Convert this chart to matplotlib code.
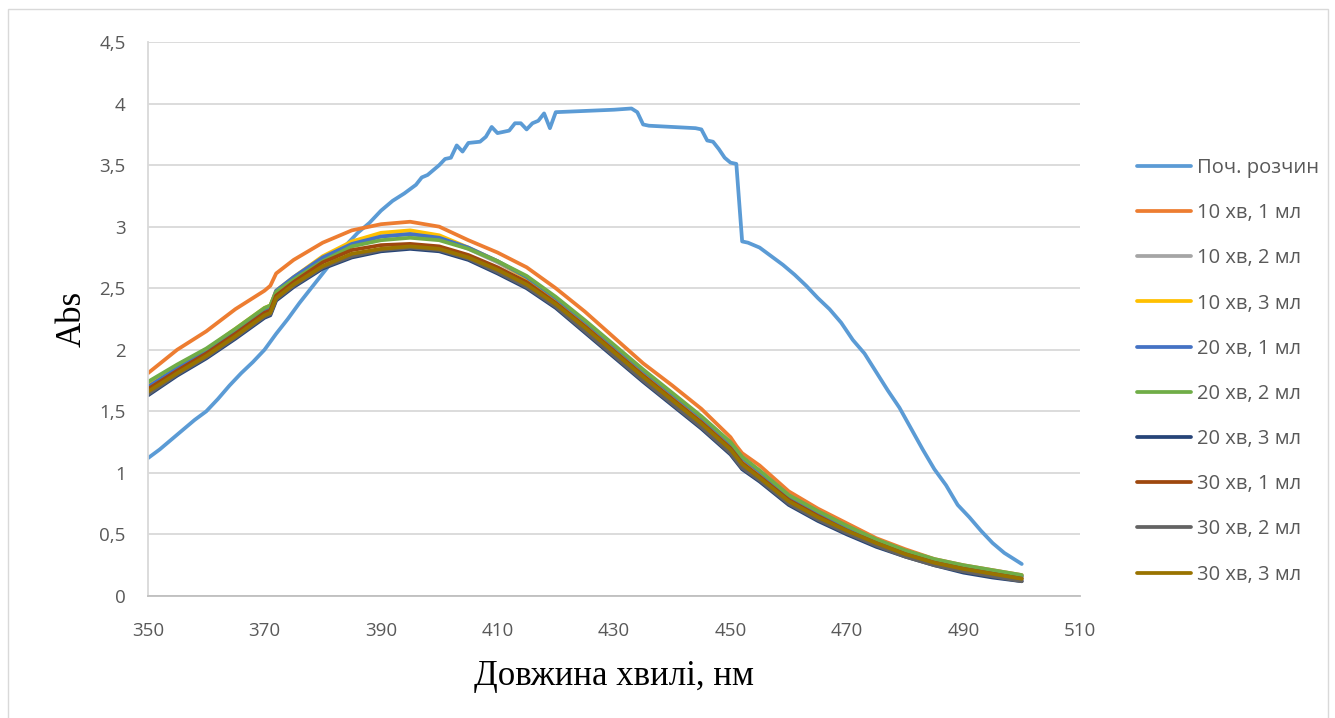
import matplotlib
matplotlib.use("Agg")
import matplotlib.pyplot as plt
from matplotlib.ticker import FixedLocator, FuncFormatter
from matplotlib.patches import Rectangle

# ---------------- data ----------------
# initial solution (fine sampling, own wavelength grid)
x_initial = [350, 352, 354, 356, 358, 360, 362, 364, 366, 368, 370, 372, 374, 376, 378,
             380, 382, 384, 386, 388, 390, 392, 394, 396, 397, 398, 399, 400, 401, 402,
             403, 404, 405, 407, 408, 409, 410, 411, 412, 413, 414, 415, 416, 417, 418,
             419, 420, 425, 430, 433, 434, 435, 436, 440, 444, 445, 446, 447, 448, 449,
             450, 451, 452, 453, 455, 457, 459, 461, 463, 465, 467, 469, 471, 473, 475,
             477, 479, 481, 483, 485, 487, 489, 491, 493, 495, 497, 499, 500]
y_initial = [1.12, 1.19, 1.27, 1.35, 1.43, 1.50, 1.60, 1.71, 1.81, 1.90, 2.00, 2.13, 2.25, 2.38, 2.50,
             2.62, 2.74, 2.85, 2.95, 3.03, 3.13, 3.21, 3.27, 3.34, 3.40, 3.42, 3.46, 3.50, 3.55, 3.56,
             3.66, 3.61, 3.68, 3.69, 3.73, 3.81, 3.76, 3.77, 3.78, 3.84, 3.84, 3.79, 3.84, 3.86, 3.92,
             3.80, 3.93, 3.94, 3.95, 3.96, 3.93, 3.83, 3.82, 3.81, 3.80, 3.79, 3.70, 3.69, 3.63, 3.56,
             3.52, 3.51, 2.88, 2.87, 2.83, 2.76, 2.69, 2.61, 2.52, 2.42, 2.33, 2.22, 2.08, 1.97, 1.82,
             1.67, 1.53, 1.36, 1.19, 1.03, 0.90, 0.74, 0.64, 0.53, 0.43, 0.35, 0.29, 0.26]

# treated samples (common wavelength grid)
wavelength = [350, 355, 360, 365, 370, 371, 372, 375, 380, 385, 390, 395, 400, 405, 410,
              415, 420, 425, 430, 435, 440, 445, 450, 451, 452, 455, 460, 465, 470, 475,
              480, 485, 490, 495, 500]

t10_v1 = [1.81, 2.00, 2.15, 2.33, 2.48, 2.52, 2.62, 2.73, 2.87, 2.97, 3.02, 3.04, 3.00, 2.89, 2.79,
          2.67, 2.50, 2.31, 2.10, 1.89, 1.71, 1.52, 1.29, 1.22, 1.16, 1.06, 0.85, 0.71, 0.59, 0.47,
          0.38, 0.30, 0.25, 0.21, 0.17]
t10_v2 = [1.72, 1.86, 2.00, 2.16, 2.33, 2.35, 2.47, 2.58, 2.74, 2.86, 2.92, 2.94, 2.91, 2.82, 2.71,
          2.58, 2.41, 2.22, 2.02, 1.82, 1.63, 1.44, 1.23, 1.17, 1.11, 1.00, 0.80, 0.67, 0.55, 0.44,
          0.36, 0.29, 0.23, 0.19, 0.15]
t10_v3 = [1.73, 1.87, 2.00, 2.17, 2.34, 2.36, 2.48, 2.59, 2.76, 2.88, 2.95, 2.97, 2.93, 2.83, 2.72,
          2.58, 2.41, 2.22, 2.02, 1.82, 1.63, 1.44, 1.23, 1.17, 1.11, 1.00, 0.81, 0.67, 0.56, 0.45,
          0.36, 0.29, 0.24, 0.20, 0.16]
t20_v1 = [1.70, 1.85, 1.99, 2.16, 2.33, 2.35, 2.48, 2.59, 2.75, 2.86, 2.92, 2.94, 2.91, 2.83, 2.72,
          2.59, 2.42, 2.23, 2.03, 1.83, 1.64, 1.45, 1.24, 1.18, 1.12, 1.01, 0.81, 0.68, 0.56, 0.45,
          0.36, 0.29, 0.24, 0.20, 0.16]
t20_v2 = [1.74, 1.88, 2.01, 2.17, 2.34, 2.36, 2.47, 2.57, 2.72, 2.84, 2.89, 2.91, 2.89, 2.82, 2.72,
          2.60, 2.43, 2.24, 2.04, 1.84, 1.65, 1.46, 1.25, 1.19, 1.13, 1.02, 0.82, 0.69, 0.57, 0.46,
          0.37, 0.30, 0.25, 0.21, 0.17]
t20_v3 = [1.63, 1.79, 1.93, 2.09, 2.26, 2.28, 2.40, 2.51, 2.66, 2.75, 2.80, 2.82, 2.80, 2.73, 2.62,
          2.50, 2.34, 2.14, 1.94, 1.74, 1.55, 1.36, 1.15, 1.09, 1.03, 0.93, 0.74, 0.61, 0.50, 0.40,
          0.32, 0.25, 0.19, 0.15, 0.12]
t30_v1 = [1.68, 1.83, 1.97, 2.13, 2.30, 2.32, 2.44, 2.55, 2.71, 2.81, 2.85, 2.86, 2.84, 2.77, 2.67,
          2.55, 2.38, 2.19, 1.99, 1.79, 1.60, 1.41, 1.20, 1.14, 1.08, 0.97, 0.78, 0.65, 0.53, 0.43,
          0.34, 0.27, 0.22, 0.18, 0.14]
t30_v2 = [1.64, 1.80, 1.94, 2.10, 2.27, 2.29, 2.41, 2.52, 2.67, 2.76, 2.81, 2.83, 2.81, 2.74, 2.63,
          2.51, 2.35, 2.15, 1.95, 1.75, 1.56, 1.37, 1.16, 1.10, 1.04, 0.94, 0.75, 0.62, 0.51, 0.41,
          0.32, 0.25, 0.20, 0.16, 0.12]
t30_v3 = [1.66, 1.81, 1.95, 2.11, 2.28, 2.30, 2.42, 2.53, 2.68, 2.78, 2.82, 2.84, 2.82, 2.75, 2.65,
          2.53, 2.37, 2.18, 1.98, 1.78, 1.59, 1.40, 1.19, 1.13, 1.07, 0.96, 0.77, 0.64, 0.53, 0.43,
          0.34, 0.27, 0.22, 0.18, 0.14]

labels = ["Поч. розчин", "10 хв, 1 мл", "10 хв, 2 мл", "10 хв, 3 мл", "20 хв, 1 мл",
          "20 хв, 2 мл", "20 хв, 3 мл", "30 хв, 1 мл", "30 хв, 2 мл", "30 хв, 3 мл"]
colors = ["#5B9BD5", "#ED7D31", "#A5A5A5", "#FFC000", "#4472C4",
          "#70AD47", "#264478", "#9E480E", "#636363", "#997300"]

x_ticks = [350, 370, 390, 410, 430, 450, 470, 490, 510]
y_ticks = [0, 0.5, 1, 1.5, 2, 2.5, 3, 3.5, 4, 4.5]

x_title = "Довжина хвилі, нм"
y_title = "Abs"

# ---------------- figure ----------------
W, H = 1335, 718
fig = plt.figure(figsize=(W / 100, H / 100), dpi=100)
fig.patch.set_facecolor("white")

# outer chart border
fig.patches.append(Rectangle((8 / W, -0.05), 1320 / W, 1 - 9 / H + 0.05,
                             transform=fig.transFigure, fill=False,
                             edgecolor="#D9D9D9", linewidth=1.0, clip_on=False))

ax_l, ax_r, ax_t, ax_b = 148, 1080, 42, 596
ax = fig.add_axes([ax_l / W, 1 - ax_b / H, (ax_r - ax_l) / W, (ax_b - ax_t) / H])

series = [(x_initial, y_initial)] + [(wavelength, s) for s in
          [t10_v1, t10_v2, t10_v3, t20_v1, t20_v2, t20_v3, t30_v1, t30_v2, t30_v3]]

for (xs, ys), lab, col in zip(series, labels, colors):
    ax.plot(xs, ys, color=col, linewidth=2.7, label=lab, solid_capstyle="round",
            solid_joinstyle="round")

ax.set_xlim(350, 510)
ax.set_ylim(0, 4.5)
ax.xaxis.set_major_locator(FixedLocator(x_ticks))
ax.yaxis.set_major_locator(FixedLocator(y_ticks))


def comma_fmt(v, pos):
    s = ("%g" % v)
    return s.replace(".", ",")


ax.yaxis.set_major_formatter(FuncFormatter(comma_fmt))
ax.xaxis.set_major_formatter(FuncFormatter(lambda v, p: "%d" % v))

ax.grid(axis="y", color="#D9D9D9", linewidth=1.3)
ax.set_axisbelow(True)
for s in ["top", "right"]:
    ax.spines[s].set_visible(False)
ax.spines["left"].set_color("#D9D9D9")
ax.spines["left"].set_linewidth(1.3)
ax.spines["bottom"].set_color("#BFBFBF")
ax.spines["bottom"].set_linewidth(1.3)

tick_font = "Open Sans"
ax.tick_params(axis="both", length=0, colors="#595959", labelsize=13.5)
ax.tick_params(axis="y", pad=16)
ax.tick_params(axis="x", pad=19)
for lbl in ax.get_xticklabels() + ax.get_yticklabels():
    lbl.set_family(tick_font)

ax.set_xlabel(x_title, family="Liberation Serif", fontsize=25, color="black", labelpad=14)
ax.set_ylabel(y_title, family="Liberation Serif", fontsize=25, color="black", labelpad=8)

leg = ax.legend(loc="upper left", bbox_to_anchor=(1137 / W, 1 - 158 / H),
                bbox_transform=fig.transFigure, frameon=False,
                prop={"family": tick_font, "size": 14.5},
                handlelength=2.7, handletextpad=0.3, labelspacing=1.25,
                borderaxespad=0, borderpad=0)
for t in leg.get_texts():
    t.set_color("#595959")
for h in leg.get_lines():
    h.set_linewidth(2.7)

fig.savefig("out.png", dpi=100, facecolor="white")
